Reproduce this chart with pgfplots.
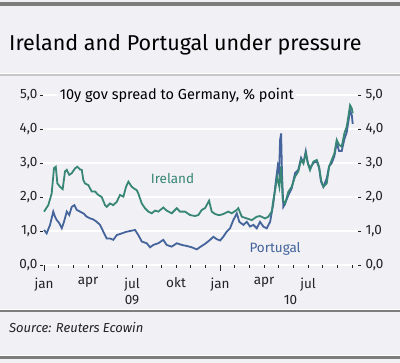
\documentclass[border=0pt]{standalone}
\usepackage{fontspec}
\setmainfont{Fira Sans}
\usepackage{pgfplots}
\pgfplotsset{compat=1.18}
\definecolor{bg}{RGB}{240,240,245}
\definecolor{ire}{RGB}{56,134,118}
\definecolor{por}{RGB}{68,100,155}
\definecolor{txt}{RGB}{35,35,35}
\definecolor{barg}{RGB}{125,125,125}
\pgfplotsset{numfmt/.style={/pgf/number format/fixed, /pgf/number format/fixed zerofill, /pgf/number format/precision=1, /pgf/number format/use comma, /pgf/number format/assume math mode=true}}
\begin{document}
\begin{tikzpicture}[x=1pt,y=1pt]
\fill[bg] (0,0) rectangle (400,363);
% top bar
\fill[barg] (0,357) rectangle (400,360.5);
% line under title
\fill[white] (0,289) rectangle (400,290);
\fill[gray!45] (0,287) rectangle (400,289);
% line under chart
\fill[white] (0,53) rectangle (400,54);
\fill[barg] (0,50.5) rectangle (400,53);
% bottom line
\fill[white] (0,7) rectangle (400,8);
\fill[barg] (0,3.5) rectangle (400,7);
\node[anchor=west, font=\fontsize{21.5}{25}\selectfont, text=black, inner sep=0pt] at (9,318) {Ireland and Portugal under pressure};
\node[anchor=west, font=\fontsize{13}{15}\selectfont\itshape, text=txt, inner sep=0pt] at (9,35) {Source: Reuters Ecowin};

\begin{axis}[
  at={(43pt,98pt)}, anchor=south west, scale only axis,
  width=315pt, height=170pt,
  xmin=-0.07, xmax=21.4, ymin=0, ymax=5,
  axis line style={draw=none},
  ytick={0,1,...,5}, ytick pos=left,
  yticklabel style={numfmt, font=\fontsize{13.5}{15}\selectfont, text=txt, xshift=1pt},
  ymajorgrids, grid style={white, line width=1.6pt},
  xtick={0,3,6,9,12,15,18},
  xticklabels={jan,apr,jul,okt,jan,apr,jul},
  minor xtick={1,2,4,5,7,8,10,11,13,14,16,17,19,20,21},
  xtick pos=bottom,
  xticklabel style={font=\fontsize{13.5}{15}\selectfont, text=txt, yshift=-6pt},
  tick style={txt, line width=0.6pt},
  major tick length=3pt, minor tick length=3pt,
  ytick style={line width=0.8pt},
  tick align=outside,
  extra x ticks={0,12}, extra x tick labels={},
  extra x tick style={major tick length=6pt, grid=none},
  clip=false,
]
\addplot[por, line width=1.8pt] table {
0.00 1.03
0.18 0.93
0.41 1.18
0.63 1.57
0.75 1.42
0.87 1.32
1.04 1.23
1.21 1.08
1.36 1.27
1.55 1.57
1.72 1.47
1.89 1.71
2.07 1.76
2.23 1.62
2.45 1.57
2.68 1.52
2.91 1.42
3.14 1.37
3.36 1.34
3.59 1.27
3.82 1.18
4.04 0.98
4.27 0.78
4.50 0.78
4.72 0.74
4.96 0.88
5.30 0.93
5.64 0.98
5.98 1.01
6.20 1.03
6.43 0.88
6.66 0.69
7.00 0.64
7.23 0.52
7.45 0.59
7.79 0.64
8.13 0.74
8.36 0.59
8.70 0.54
9.05 0.64
9.39 0.59
9.73 0.56
10.07 0.52
10.41 0.46
10.75 0.56
10.97 0.62
11.32 0.74
11.54 0.83
11.77 0.76
12.00 0.72
12.22 0.83
12.45 0.98
12.68 1.08
12.90 1.32
13.14 1.52
13.31 1.27
13.59 1.18
13.82 1.27
14.04 1.13
14.27 1.18
14.50 1.08
14.72 1.27
14.95 1.13
15.18 1.08
15.41 1.27
15.63 1.81
15.81 2.50
15.93 2.90
16.02 2.70
16.09 3.68
16.16 3.87
16.22 2.70
16.31 1.71
16.43 1.81
16.65 2.05
16.88 2.25
17.11 2.70
17.33 2.80
17.52 3.15
17.68 3.00
17.84 3.35
17.98 3.00
18.13 2.85
18.36 3.00
18.59 3.05
18.75 2.85
18.88 2.45
19.04 2.30
19.27 2.55
19.43 2.90
19.61 3.00
19.79 3.20
19.95 3.60
20.11 3.35
20.29 3.35
20.47 3.70
20.63 3.90
20.74 4.20
20.86 4.55
20.98 4.40
21.04 4.15
};
\addplot[ire, line width=1.8pt] table {
0.00 1.57
0.29 1.76
0.52 2.10
0.68 2.85
0.80 2.89
0.91 2.40
1.09 2.30
1.27 2.23
1.43 2.75
1.55 2.80
1.72 2.65
1.89 2.70
2.11 2.84
2.27 2.89
2.45 2.81
2.57 2.80
2.68 2.50
2.79 2.40
3.02 2.35
3.25 2.16
3.48 2.16
3.70 2.06
3.93 2.00
4.16 1.76
4.27 1.71
4.50 1.81
4.72 1.76
4.96 1.86
5.18 2.06
5.41 2.01
5.59 2.30
5.75 2.45
5.98 2.30
6.13 2.25
6.32 2.20
6.43 2.10
6.66 1.81
6.88 1.67
7.11 1.57
7.34 1.52
7.57 1.60
7.79 1.57
8.13 1.69
8.36 1.60
8.70 1.52
9.05 1.67
9.27 1.57
9.61 1.57
9.95 1.47
10.29 1.44
10.52 1.47
10.75 1.62
10.97 1.67
11.25 1.89
11.43 1.57
11.66 1.50
11.88 1.47
12.00 1.47
12.22 1.50
12.56 1.57
12.79 1.52
13.14 1.62
13.24 1.67
13.48 1.42
13.82 1.37
14.16 1.32
14.50 1.42
14.72 1.44
15.06 1.37
15.29 1.42
15.52 1.57
15.63 1.91
15.75 2.20
15.90 2.60
16.04 2.30
16.16 2.90
16.27 1.91
16.43 1.81
16.65 2.15
16.88 2.30
17.11 2.60
17.33 2.75
17.52 3.09
17.68 2.99
17.84 3.28
17.98 2.99
18.13 2.79
18.36 3.04
18.59 3.09
18.75 2.89
18.88 2.50
19.04 2.30
19.27 2.40
19.43 2.89
19.61 3.09
19.79 3.28
19.95 3.68
20.11 3.53
20.29 3.48
20.47 3.87
20.63 4.07
20.74 4.36
20.86 4.70
20.98 4.60
21.04 4.46
};
\node[ire, font=\fontsize{13.5}{15}\selectfont] at (axis cs:8.76,2.55) {Ireland};
\node[por, font=\fontsize{13.5}{15}\selectfont] at (axis cs:15.75,0.47) {Portugal};
\node[txt, font=\fontsize{13.5}{15}\selectfont] at (axis cs:6,0) [yshift=-35pt] {09};
\node[txt, font=\fontsize{13.5}{15}\selectfont] at (axis cs:16.8,0) [yshift=-35pt] {10};
\node[fill=bg, text=black, font=\fontsize{14.5}{16}\selectfont, inner sep=2pt] at (axis cs:9.05,5) {10y gov spread to Germany, \% point};
\end{axis}
\begin{axis}[
  at={(43pt,98pt)}, anchor=south west, scale only axis,
  width=315pt, height=170pt,
  xmin=-0.07, xmax=21.4, ymin=0, ymax=5,
  axis line style={draw=none},
  xtick=\empty,
  ytick={0,1,...,5}, ytick pos=right, yticklabel pos=right,
  yticklabel style={numfmt, font=\fontsize{13.5}{15}\selectfont, text=txt, xshift=1pt},
  tick style={txt, line width=0.8pt}, major tick length=3pt, tick align=outside,
]
\end{axis}
\end{tikzpicture}
\end{document}
